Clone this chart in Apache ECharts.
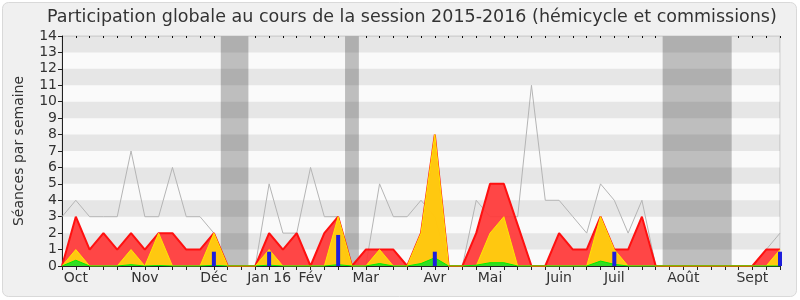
<!DOCTYPE html>
<html><head><meta charset="utf-8">
<script src="https://cdn.jsdelivr.net/npm/echarts@6/dist/echarts.min.js"></script>
<style>html,body{margin:0;padding:0;background:#fff}#c{width:800px;height:300px}</style>
</head><body><div id="c"></div>
<script>
// 53 weeks of the 2015-2016 session
const weeks = Array.from({length: 53}, (_, i) => 'S' + (i + 1));
const monthIdx  = [1, 6, 11, 15, 18, 22, 27, 31, 36, 40, 45, 50];
const monthText = ['Oct', 'Nov', 'Déc', 'Jan 16', 'Fév', 'Mar', 'Avr', 'Mai', 'Juin', 'Juil', 'Août', 'Sept'];
const vacationWeeks = [12, 13, 21, 44, 45, 46, 47, 48];
const stripeBands = [1, 3, 5, 7, 9, 11, 13];

// red: présences totales
const presences = [0,3,1,2,1,2,1,2,2,1,1,2, 0,0,0,2,1,2,0,2,3,0, 1,1,1,0,2,8,0,0,2,5, 5,2.5,0,0,2,1,1,3,1,1, 3,0,0,0,0,0,0,0,0,1, 1];
// yellow: commission
const commission = [0,1,0,0,0,1,0,2,0,0,0,2, 0,0,0,1,0,0,0,0,3,0, 0,1,0,0,2,8,0,0,0,2, 3,0,0,0,0,0,0,3,1,0, 0,0,0,0,0,0,0,0,0,0, 1];
// green: hémicycle
const hemicycle = [0,0.35,0,0,0,0.08,0,0.03,0,0,0,0.04, 0,0,0,0.05,0,0,0,0,0.08,0, 0,0.15,0,0,0.15,0.5,0,0,0.05,0.2, 0.2,0,0,0,0,0,0,0.3,0.1,0, 0,0,0,0,0,0,0,0,0,0, 0];
// blue: questions
const questions = [0,0,0,0,0,0,0,0,0,0,0,0.87, 0,0,0,0.87,0,0,0,0,1.89,0, 0,0,0,0,0,0.87,0,0,0,0, 0,0,0,0,0,0,0,0,0.87,0, 0,0,0,0,0,0,0,0,0,0, 0.87];
// grey: médiane
const mediane = [3,4,3,3,3,7,3,3,6,3,3,2, 0,0,0,5,2,2,6,3,3,0, 0,5,3,3,4,3,0,0,4,3, 3,3,11,4,4,3,2,5,4,2, 4,0,0,0,0,0,0,0,0,1, 2];

const FONT = 'DejaVu Sans';
const monthMap = {};
monthIdx.forEach((k, j) => monthMap[k] = monthText[j]);

// group consecutive vacation weeks into ranges
const vacRanges = [];
vacationWeeks.forEach(w => {
  const last = vacRanges[vacRanges.length - 1];
  if (last && last[1] === w - 1) last[1] = w; else vacRanges.push([w, w]);
});

const chart = echarts.init(document.getElementById('c'), null, {renderer: 'canvas'});
chart.setOption({
  animation: false,
  backgroundColor: '#ffffff',
  graphic: [{
    type: 'rect', z: -10, silent: true,
    shape: {x: 2.5, y: 2.5, width: 794, height: 294, r: 6},
    style: {fill: '#F0F0F0', stroke: '#D9D9D9', lineWidth: 1}
  }],
  title: {
    text: 'Participation globale au cours de la session 2015-2016 (hémicycle et commissions)',
    left: 47, top: 8, padding: 0,
    textStyle: {fontFamily: FONT, fontSize: 17.5, fontWeight: 'normal', color: '#333'}
  },
  grid: {left: 62, right: 20, top: 36, bottom: 34, show: true, backgroundColor: '#FAFAFA', borderColor: '#CFCFCF', borderWidth: 1},
  xAxis: [{
    type: 'category', data: weeks, boundaryGap: false,
    axisLine: {lineStyle: {color: '#222', width: 1}},
    axisTick: {show: true, interval: 0, length: 4, lineStyle: {color: '#222'}},
    axisLabel: {interval: 0, margin: 5, fontFamily: FONT, fontSize: 14, color: '#333',
      formatter: (v, idx) => monthMap[idx] || ''},
    splitLine: {show: false}
  }, {
    type: 'value', min: 0, max: weeks.length - 1, show: false
  }, {
    type: 'category', data: weeks, boundaryGap: false, position: 'top',
    axisLine: {show: false},
    axisTick: {show: true, inside: true, interval: 0, length: 2, lineStyle: {color: '#111'}},
    axisLabel: {show: false}
  }],
  yAxis: {
    type: 'value', min: 0, max: 14, interval: 1,
    name: 'Séances par semaine', nameLocation: 'middle', nameGap: 36,
    nameTextStyle: {fontFamily: FONT, fontSize: 14, color: '#333'},
    axisLine: {show: true, lineStyle: {color: '#222'}},
    axisTick: {show: true, length: 4, lineStyle: {color: '#222'}},
    axisLabel: {margin: 5, fontFamily: FONT, fontSize: 14, color: '#333'},
    splitLine: {show: false}
  },
  series: [
    {
      name: 'vacances', type: 'line', xAxisIndex: 1, data: [], z: 1, silent: true,
      markArea: {silent: true, itemStyle: {color: '#BEBEBE'},
        data: vacRanges.map(r => [{xAxis: r[0] - 0.5}, {xAxis: r[1] + 0.5}])}
    },
    {
      name: 'bandes', type: 'line', xAxisIndex: 1, data: [], z: 2, silent: true,
      markArea: {silent: true, itemStyle: {color: 'rgba(0,0,0,0.08)'},
        data: stripeBands.map(b => [{yAxis: b}, {yAxis: b + 1}])}
    },
    {
      name: 'médiane', type: 'line', data: mediane, z: 3, symbol: 'none',
      lineStyle: {color: '#B4B4B4', width: 1}
    },
    {
      name: 'présences', type: 'line', data: presences, z: 4, symbol: 'none',
      lineStyle: {color: '#FF1010', width: 2},
      areaStyle: {color: '#FF3838', opacity: 0.93}
    },
    {
      name: 'commission', type: 'line', data: commission, z: 5, symbol: 'none',
      lineStyle: {color: '#FFE600', width: 1},
      areaStyle: {color: '#FFD20C', opacity: 0.93}
    },
    {
      name: 'hémicycle', type: 'line', data: hemicycle, z: 6, symbol: 'none',
      lineStyle: {color: '#00EE00', width: 1},
      areaStyle: {color: '#33DD22', opacity: 1}
    },
    {
      name: 'questions', type: 'bar', data: questions, z: 7, barWidth: 4,
      itemStyle: {color: '#1E1EDC'}
    }
  ]
});
</script>
</body></html>
